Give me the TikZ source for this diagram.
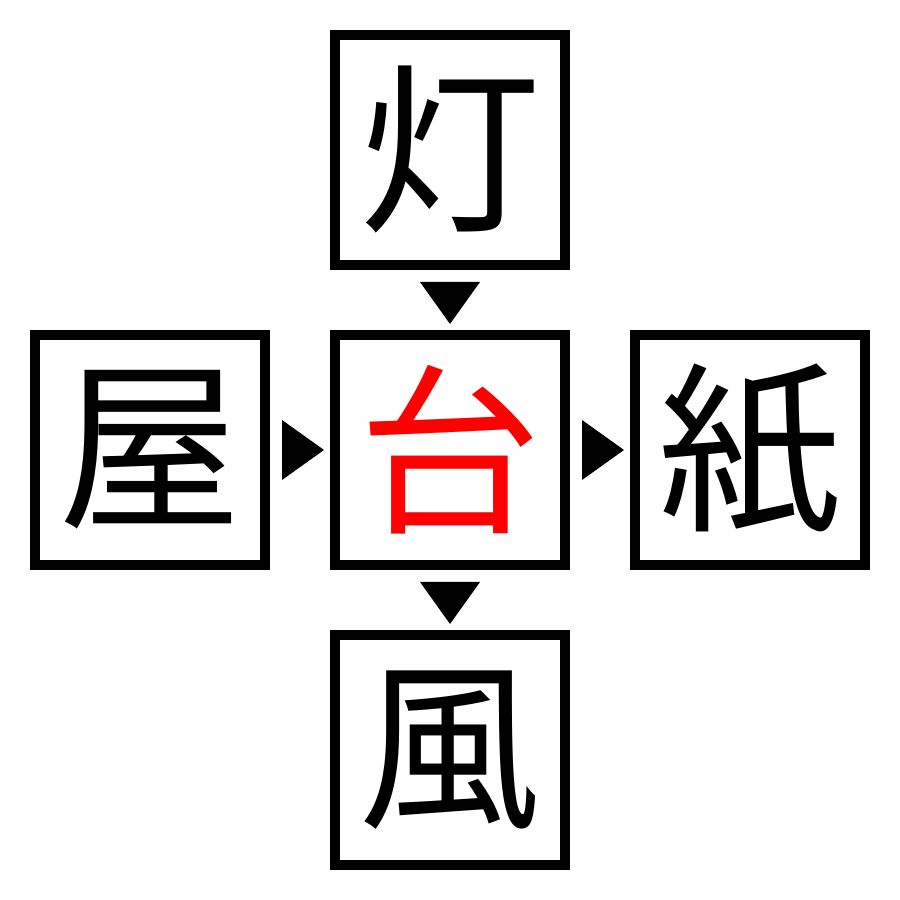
\documentclass[tikz,border=0pt]{standalone}
\usepackage{fontspec}
\newfontfamily\cjk{Noto Sans CJK JP}
\usetikzlibrary{calc}

\tikzset{
  kanji/.style={draw, line width=0.1cm, minimum size=2.3cm, inner sep=0pt,
    font=\cjk\fontsize{52pt}{52pt}\selectfont},
}

\begin{document}
\begin{tikzpicture}
        \useasboundingbox (0,0) rectangle (9,9);
        \coordinate (T) at (4.5,7.5);
        \coordinate (L) at (1.5,4.5);
        \coordinate (M) at (4.5,4.5);
        \coordinate (R) at (7.5,4.5);
        \coordinate (B) at (4.5,1.5);
        \node [kanji] (top)    at (T) {灯};
        \node [kanji] (left)   at (L) {屋};
        \node [kanji, text=red] (mid) at (M) {台};
        \node [kanji] (right)  at (R) {紙};
        \node [kanji] (bottom) at (B) {風};
        % pointers in the gaps
        \coordinate (P1) at ($(top.south)!0.5!(mid.north)+(0,-0.03)$);
        \coordinate (P2) at ($(mid.south)!0.5!(bottom.north)+(0,-0.03)$);
        \coordinate (P3) at ($(left.east)!0.5!(mid.west)+(0.03,0)$);
        \coordinate (P4) at ($(mid.east)!0.5!(right.west)+(0.03,0)$);
        \fill (P1) ++(-0.3,0.21) -- ++(0.6,0) -- ++(-0.3,-0.42) -- cycle;
        \fill (P2) ++(-0.3,0.21) -- ++(0.6,0) -- ++(-0.3,-0.42) -- cycle;
        \fill (P3) ++(-0.21,0.3) -- ++(0,-0.6) -- ++(0.42,0.3) -- cycle;
        \fill (P4) ++(-0.21,0.3) -- ++(0,-0.6) -- ++(0.42,0.3) -- cycle;
\end{tikzpicture}
\end{document}
